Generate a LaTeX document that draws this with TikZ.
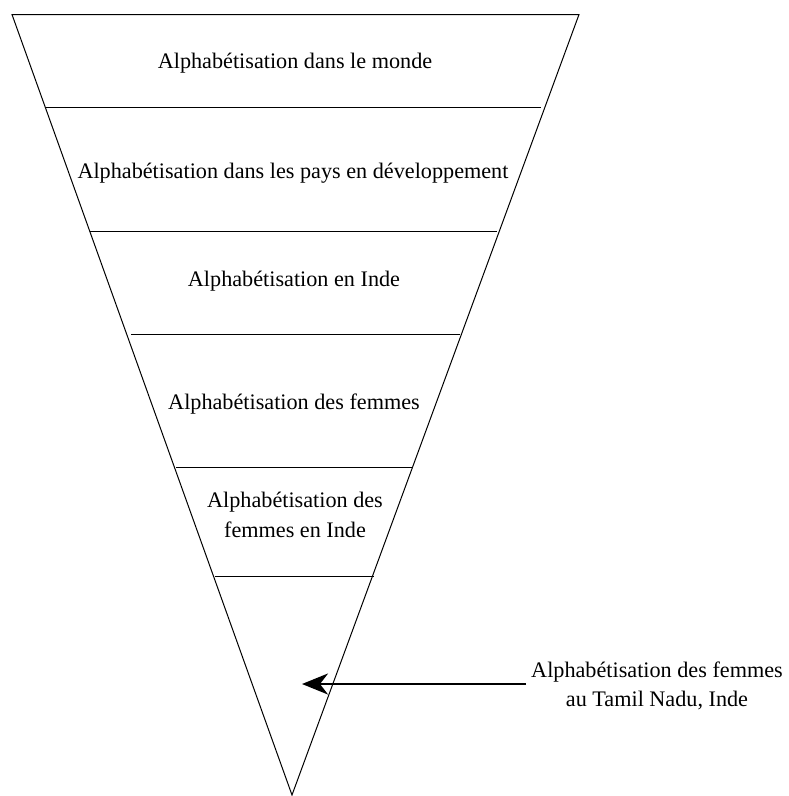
\documentclass[tikz,border=0pt]{standalone}
\usepackage{fontspec}
\setmainfont{Liberation Serif}
\usetikzlibrary{arrows.meta}
\begin{document}
\begin{tikzpicture}[x=1pt,y=-1pt,
  edge/.style={line width=1pt},
  lbl/.style={font=\fontsize{22.2}{29.5}\selectfont, align=center, inner sep=0pt},
  pointer/.style={line width=2.4pt,-{Stealth[length=26pt,width=21pt,inset=8pt]}}]
\useasboundingbox (0,0) rectangle (788,796);
\coordinate (tl) at (12,14.5);
\coordinate (tr) at (579,14.5);
\coordinate (ap) at (292,795);
\draw[edge, line join=miter] (tl) -- (tr) -- (ap) -- cycle;
\coordinate (a1) at (45,107); \coordinate (b1) at (541,107);
\coordinate (a2) at (90,231); \coordinate (b2) at (497,231);
\coordinate (a3) at (131,334); \coordinate (b3) at (460,334);
\coordinate (a4) at (176,467); \coordinate (b4) at (412,467);
\coordinate (a5) at (215,576); \coordinate (b5) at (374,576);
\foreach \i in {1,...,5} \draw[edge] (a\i) -- (b\i);
\node[lbl] (t1) at (295,63) {Alphabétisation dans le monde};
\node[lbl] (t2) at (293,173) {Alphabétisation dans les pays en développement};
\node[lbl] (t3) at (294,281) {Alphabétisation en Inde};
\node[lbl] (t4) at (294,404) {Alphabétisation des femmes};
\node[lbl] (t5) at (295,515) {Alphabétisation des\\femmes en Inde};
\node[lbl] (t6) at (657,686) {Alphabétisation des femmes\\au Tamil Nadu, Inde};
\coordinate (tip) at (302,684);
\draw[pointer] (526,684) -- (tip);
\end{tikzpicture}
\end{document}
